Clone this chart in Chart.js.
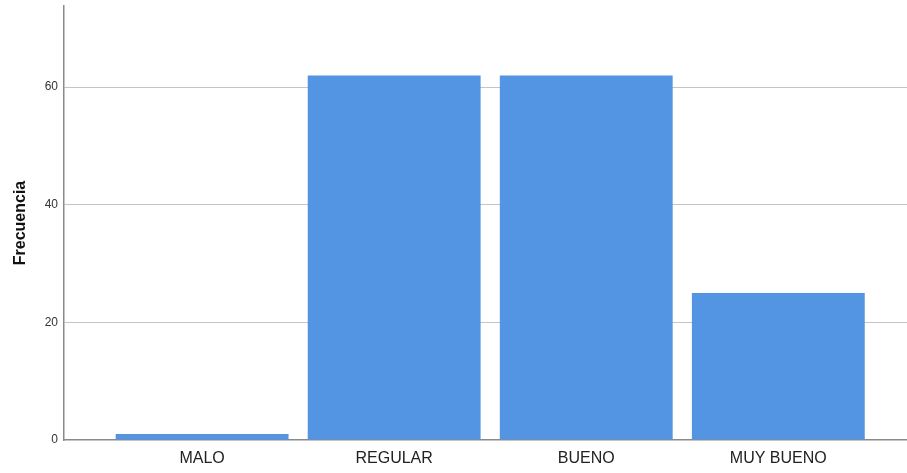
<!DOCTYPE html>
<html>
<head>
<meta charset="utf-8">
<script src="https://cdn.jsdelivr.net/npm/chart.js@4.4.0/dist/chart.umd.min.js"></script>
<style>
  html, body { margin: 0; padding: 0; background: #fff; }
  #chart { display: block; }
</style>
</head>
<body>
<canvas id="chart" width="907" height="473"></canvas>
<script>
// categorias y frecuencias
const categorias = ["MALO", "REGULAR", "BUENO", "MUY BUENO"];
const frecuencias = [1, 62, 62, 25];
const yTicks = [0, 20, 40, 60];

const puntos = frecuencias.map((v, i) => ({ x: i, y: v }));

new Chart(document.getElementById("chart"), {
  type: "bar",
  data: {
    datasets: [{
      data: puntos,
      backgroundColor: "#5394e3",
      borderWidth: 0,
      barPercentage: 0.9,
      categoryPercentage: 1
    }]
  },
  options: {
    responsive: false,
    devicePixelRatio: 1,
    animation: false,
    layout: { padding: { top: 6, right: 0, left: 11, bottom: 0 } },
    plugins: { legend: { display: false }, tooltip: { enabled: false } },
    scales: {
      x: {
        type: "linear",
        offset: false,
        min: -0.719,
        max: 3.67,
        grid: { display: false, drawTicks: false },
        border: { display: true, color: "#8a8a8a", width: 1.5 },
        afterBuildTicks: s => { s.ticks = categorias.map((c, i) => ({ value: i })); },
        ticks: {
          callback: v => categorias[v],
          autoSkip: false,
          maxRotation: 0,
          padding: 9,
          color: "#222",
          font: { family: "Liberation Sans, Arial", size: 16 }
        },
        afterFit: s => { s.height = 33; }
      },
      y: {
        min: 0,
        max: 73.8,
        afterBuildTicks: s => { s.ticks = yTicks.map(v => ({ value: v })); },
        grid: {
          drawTicks: false,
          color: c => c.tick && c.tick.value === 0 ? "rgba(0,0,0,0)" : "#c4c4c4",
          lineWidth: 1
        },
        border: { display: true, color: "#8a8a8a", width: 1.5 },
        ticks: {
          padding: 6,
          color: "#333",
          font: { family: "Liberation Sans, Arial", size: 12 }
        },
        title: {
          display: true,
          text: "Frecuencia",
          color: "#111",
          padding: { top: 0, bottom: 2 },
          font: { family: "Liberation Sans, Arial", size: 16, weight: "bold" }
        },
        afterFit: s => { s.width = 53; s.paddingTop = 0; s.paddingBottom = 0; }
      }
    }
  }
});
</script>
</body>
</html>
